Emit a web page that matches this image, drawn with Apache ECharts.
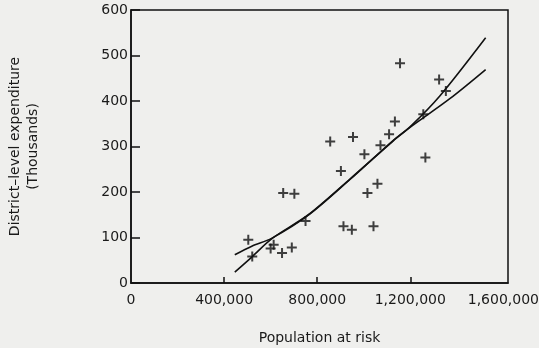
<!DOCTYPE html>
<html>
<head>
<meta charset="utf-8">
<script src="https://cdn.jsdelivr.net/npm/echarts@6/dist/echarts.min.js"></script>
<style>
html,body{margin:0;padding:0;background:#efefed;}
#chart{width:539px;height:348px;}
</style>
</head>
<body>
<div id="chart"></div>
<script>
// Scatter points: population at risk / district-level expenditure (thousands)
const popAtRisk = [504000, 521000, 600000, 613000, 649000, 691000, 654000, 702000, 750000,
  913000, 949000, 1042000, 856000, 954000, 1134000, 1109000, 1072000, 1003000, 902000,
  1059000, 1016000, 1156000, 1324000, 1353000, 1256000, 1265000];
const expenditure = [95, 58, 76, 84, 66, 78, 198, 196, 136,
  125, 117, 125, 311, 321, 355, 327, 303, 283, 246,
  218, 198, 483, 447, 422, 371, 276];

// Fitted curve 1 (steeper, convex)
const curve1X = [446000, 519000, 604000, 762000, 942000, 1126000, 1199000, 1327000, 1524000];
const curve1Y = [24, 57, 97, 150, 229, 312, 343, 411, 539];
// Fitted curve 2 (flatter)
const curve2X = [446000, 519000, 604000, 762000, 942000, 1126000, 1199000, 1370000, 1524000];
const curve2Y = [62, 81, 98, 149, 228, 313, 342, 405, 469];

const xTicks = [0, 400000, 800000, 1200000, 1600000];
const xTickMarks = [400000, 800000, 1200000];
const yTicks = [0, 100, 200, 300, 400, 500, 600];

const zip = (a, b) => a.map((v, i) => [v, b[i]]);
const FONT = 'DejaVu Sans';
const TXT = '#1a1a1a';
const W = 'normal';

const chart = echarts.init(document.getElementById('chart'));
chart.setOption({
  backgroundColor: '#efefed',
  animation: false,
  grid: {left: 131, right: 31, top: 10, bottom: 65, show: true, borderColor: '#111', borderWidth: 1.5,
         containLabel: false, outerBoundsMode: 'none'},
  xAxis: {
    type: 'value', min: 0, max: 1620000, interval: 400000,
    name: 'Population at risk', nameLocation: 'middle', nameGap: 48,
    nameTextStyle: {fontFamily: FONT, fontSize: 14, color: TXT, fontWeight: W},
    axisLine: {lineStyle: {color: '#111', width: 1.5}},
    axisTick: {inside: true, length: 6, customValues: xTickMarks, lineStyle: {color: '#111', width: 1.5}},
    splitLine: {show: false},
    axisLabel: {
      fontFamily: FONT, fontSize: 14, color: TXT, margin: 10, fontWeight: W,
      customValues: xTicks,
      formatter: v => xTicks.includes(v) ? v.toLocaleString('en-US') : ''
    }
  },
  yAxis: {
    type: 'value', min: 0, max: 600, interval: 100,
    name: 'District\u2013level expenditure\n(Thousands)', nameLocation: 'middle', nameGap: 89,
    nameRotate: 90,
    nameTextStyle: {fontFamily: FONT, fontSize: 14, color: TXT, lineHeight: 18, fontWeight: W},
    axisLine: {show: true, lineStyle: {color: '#111', width: 1.5}},
    axisTick: {show: true, inside: true, length: 9, lineStyle: {color: '#111', width: 1.5}},
    splitLine: {show: false},
    axisLabel: {
      fontFamily: FONT, fontSize: 14, color: TXT, margin: 3, fontWeight: W,
      formatter: v => yTicks.includes(v) ? String(v) : ''
    }
  },
  series: [
    {
      type: 'scatter',
      data: zip(popAtRisk, expenditure),
      symbol: 'path://M4,0H6V4H10V6H6V10H4V6H0V4H4Z',
      symbolSize: 10,
      itemStyle: {color: '#111'}
    },
    {
      type: 'line', data: zip(curve1X, curve1Y), smooth: 0.3, symbol: 'none',
      lineStyle: {color: '#111', width: 1.6}
    },
    {
      type: 'line', data: zip(curve2X, curve2Y), smooth: 0.3, symbol: 'none',
      lineStyle: {color: '#111', width: 1.6}
    }
  ]
});
</script>
</body>
</html>
